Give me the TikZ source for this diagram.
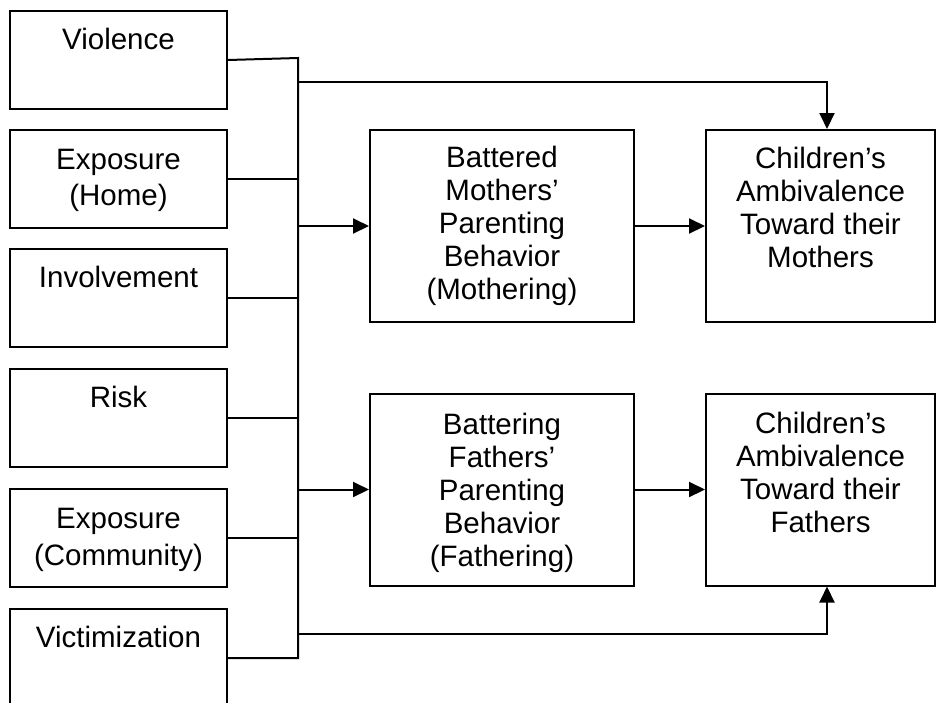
\documentclass[tikz,border=0pt]{standalone}
\usepackage{fontspec}
\setmainfont{Liberation Sans}
\usetikzlibrary{arrows.meta}
\tikzset{
  box/.style={draw=black, line width=2pt, inner sep=0pt, rectangle},
  leftbox/.style={box, minimum width=217pt, minimum height=98pt},
  midbox/.style={box, minimum width=264pt, minimum height=192pt},
  rightbox/.style={box, minimum width=229pt, minimum height=192pt},
  lab/.style={anchor=north, inner sep=0pt, align=center, font=\fontsize{29.5}{33}\selectfont},
  leftlab/.style={lab, font=\fontsize{29.5}{36.5}\selectfont},
  conn/.style={line width=2pt, draw=black},
  arr/.style={conn, -{Triangle[length=16pt,width=15pt]}},
}
\begin{document}
\begin{tikzpicture}[x=1pt,y=-1pt]
\useasboundingbox (0,0) rectangle (936,702);
\clip (0,0) rectangle (936,702);
% left boxes
\node[leftbox] (b1) at (118.5,60) {};
\node[leftbox] (b2) at (118.5,178.5) {};
\node[leftbox] (b3) at (118.5,298) {};
\node[leftbox] (b4) at (118.5,418) {};
\node[leftbox] (b5) at (118.5,538) {};
\node[leftbox] (b6) at (118.5,658) {};
\node[leftlab] (t1) at ([yshift=-18pt]b1.north) {Violence};
\node[leftlab] (t2) at ([yshift=-20pt]b2.north) {Exposure\\(Home)};
\node[leftlab] (t3) at ([yshift=-18pt]b3.north) {Involvement};
\node[leftlab] (t4) at ([yshift=-18pt]b4.north) {Risk};
\node[leftlab] (t5) at ([yshift=-20pt]b5.north) {Exposure\\(Community)};
\node[leftlab] (t6) at ([yshift=-18pt]b6.north) {Victimization};
% middle boxes
\node[midbox] (m1) at (502,226) {};
\node[midbox] (m2) at (502,489.5) {};
\node[lab] (tm1) at ([yshift=-17pt]m1.north) {Battered\\Mothers’\\Parenting\\Behavior\\(Mothering)};
\node[lab] (tm2) at ([yshift=-20pt]m2.north) {Battering\\Fathers’\\Parenting\\Behavior\\(Fathering)};
% right boxes
\node[rightbox] (r1) at (820.5,226) {};
\node[rightbox] (r2) at (820.5,489.5) {};
\node[lab] (tr1) at ([yshift=-18pt]r1.north) {Children’s\\Ambivalence\\Toward their\\Mothers};
\node[lab] (tr2) at ([yshift=-19pt]r2.north) {Children’s\\Ambivalence\\Toward their\\Fathers};
% bus
\coordinate (busTop) at (298,58);
\coordinate (busBot) at (298,658);
\draw[conn] (b1.east) -- (busTop) -- (busBot) -- (b6.east);
\draw[conn] (b2.east) -- (b2.east -| busTop);
\draw[conn] (b3.east) -- (b3.east -| busTop);
\draw[conn] (b4.east) -- (b4.east -| busTop);
\draw[conn] (b5.east) -- (b5.east -| busTop);
% arrows into middle boxes
\draw[arr] (m1.west -| busTop) -- (m1.west);
\draw[arr] (m2.west -| busTop) -- (m2.west);
% middle to right
\draw[arr] (m1.east) -- (r1.west);
\draw[arr] (m2.east) -- (r2.west);
% direct paths
\coordinate (topL) at (298,82);
\coordinate (topR) at (827,82);
\coordinate (botL) at (298,634);
\coordinate (botR) at (827,634);
\draw[arr] (topL) -- (topR) -- (topR |- r1.north);
\draw[arr] (botL) -- (botR) -- (botR |- r2.south);
\end{tikzpicture}
\end{document}
